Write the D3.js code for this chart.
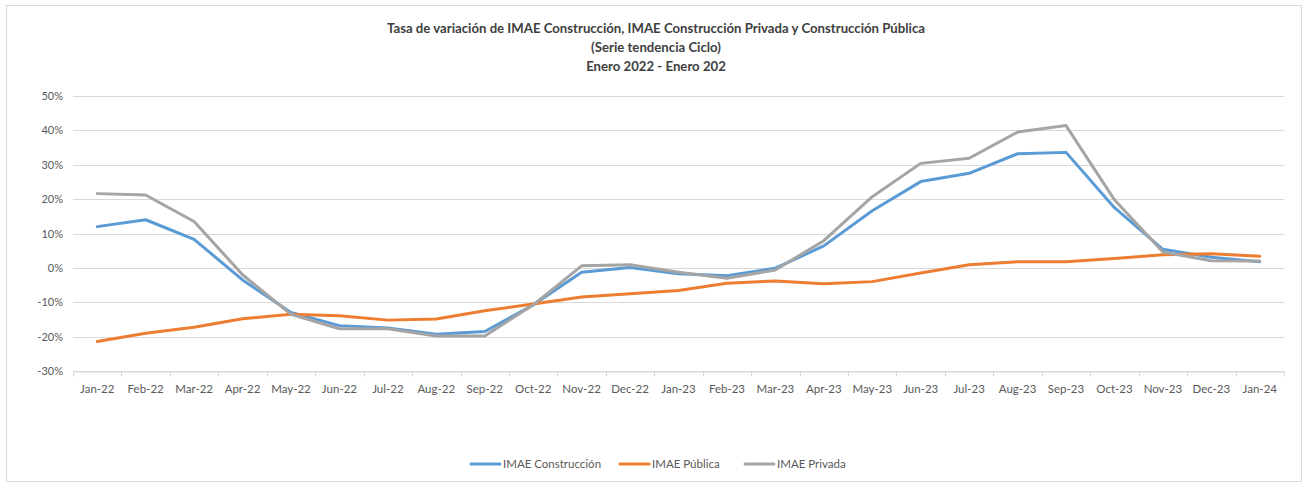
<!DOCTYPE html>
<html>
<head>
<meta charset="utf-8">
<script src="https://cdn.jsdelivr.net/npm/d3@7"></script>
<style>
  html, body { margin: 0; padding: 0; background: #fff; }
  svg { display: block; }
  text { font-family: Lato, "Open Sans", sans-serif; }
</style>
</head>
<body>
<svg id="chart" width="1307" height="485"></svg>
<script>
// Monthly categories
const months = ["Jan-22","Feb-22","Mar-22","Apr-22","May-22","Jun-22","Jul-22","Aug-22","Sep-22","Oct-22","Nov-22","Dec-22",
                "Jan-23","Feb-23","Mar-23","Apr-23","May-23","Jun-23","Jul-23","Aug-23","Sep-23","Oct-23","Nov-23","Dec-23","Jan-24"];

// Growth rates (%), trend-cycle series
const construccion = [12.0, 14.0, 8.3, -3.5, -13.0, -16.8, -17.5, -19.3, -18.5, -10.8, -1.3, 0.1,
                      -1.7, -2.3, -0.1, 6.4, 16.6, 25.1, 27.5, 33.2, 33.6, 17.5, 5.4, 3.1, 1.8];
const publica      = [-21.4, -19.0, -17.3, -14.8, -13.5, -13.9, -15.2, -14.9, -12.5, -10.5, -8.5, -7.5,
                      -6.6, -4.5, -3.8, -4.6, -4.0, -1.5, 0.9, 1.8, 1.8, 2.7, 3.8, 4.1, 3.4];
const privada      = [21.6, 21.2, 13.5, -2.0, -13.5, -17.7, -17.7, -19.8, -19.8, -10.8, 0.6, 0.9,
                      -1.3, -3.0, -0.6, 7.9, 20.7, 30.4, 31.9, 39.5, 41.4, 19.8, 4.6, 2.1, 2.0];

const yTicks = [-30, -20, -10, 0, 10, 20, 30, 40, 50];

const seriesNames = ["IMAE Construcción", "IMAE Pública", "IMAE Privada"];
const seriesColors = ["#5b9bd5", "#ed7d31", "#a5a5a5"];
const seriesData = [construccion, publica, privada];

const titleLines = [
  "Tasa de variación de IMAE Construcción, IMAE Construcción Privada y Construcción Pública",
  "(Serie tendencia Ciclo)",
  "Enero 2022 - Enero 202"
];

const svg = d3.select("#chart");

// Outer chart frame
svg.append("rect")
  .attr("x", 6.5).attr("y", 5.5)
  .attr("width", 1295).attr("height", 476)
  .attr("fill", "#fff").attr("stroke", "#d9d9d9");

const plotLeft = 73, plotRight = 1284, plotTop = 96, plotBottom = 371;

const x = d3.scaleBand().domain(months).range([plotLeft, plotRight]);
const y = d3.scaleLinear().domain([-30, 50]).range([plotBottom, plotTop]);

// Title
svg.append("g").selectAll("text")
  .data(titleLines).join("text")
  .attr("x", 656)
  .attr("y", (d, i) => 33 + i * 19)
  .attr("text-anchor", "middle")
  .attr("font-size", 13.2)
  .attr("font-weight", "bold")
  .attr("fill", "#404040")
  .text(d => d);

// Horizontal gridlines
svg.append("g").selectAll("line")
  .data(yTicks).join("line")
  .attr("x1", plotLeft).attr("x2", plotRight)
  .attr("y1", d => Math.round(y(d)) + 0.5)
  .attr("y2", d => Math.round(y(d)) + 0.5)
  .attr("stroke", "#d9d9d9").attr("stroke-width", 1);

// Y axis labels
const yAxis = d3.axisLeft(y).tickValues(yTicks).tickFormat(d => d + "%").tickSize(0).tickPadding(10);
const gy = svg.append("g").attr("transform", `translate(${plotLeft},0)`).call(yAxis);
gy.select(".domain").remove();
gy.selectAll("text").attr("font-size", 11).attr("fill", "#595959")
  .style("font-family", "Lato, 'Open Sans', sans-serif");

// X axis with tick marks between categories
const gx = svg.append("g").attr("transform", `translate(0,${Math.round(y(-30)) + 0.5})`)
  .call(d3.axisBottom(x).tickSize(0).tickPadding(13));
gx.select(".domain").attr("stroke", "#d9d9d9");
gx.selectAll("text").attr("font-size", 11.5).attr("fill", "#595959")
  .style("font-family", "Lato, 'Open Sans', sans-serif");
const boundaries = months.map(m => x(m)).concat([plotRight]);
gx.append("g").selectAll("line")
  .data(boundaries).join("line")
  .attr("x1", d => Math.round(d) + 0.5).attr("x2", d => Math.round(d) + 0.5)
  .attr("y1", 0).attr("y2", 5)
  .attr("stroke", "#d9d9d9");

// Series lines
const line = d3.line()
  .x((d, i) => x(months[i]) + x.bandwidth() / 2)
  .y(d => y(d));

svg.append("g").selectAll("path")
  .data(seriesData).join("path")
  .attr("d", d => line(d))
  .attr("fill", "none")
  .attr("stroke", (d, i) => seriesColors[i])
  .attr("stroke-width", 3)
  .attr("stroke-linejoin", "round")
  .attr("stroke-linecap", "round");

// Legend
const legendX = [471, 620, 745];
const lg = svg.append("g").selectAll("g")
  .data(seriesNames).join("g")
  .attr("transform", (d, i) => `translate(${legendX[i]},464)`);
lg.append("line")
  .attr("x1", 0).attr("x2", 29).attr("y1", 0).attr("y2", 0)
  .attr("stroke", (d, i) => seriesColors[i]).attr("stroke-width", 3)
  .attr("stroke-linecap", "round");
lg.append("text")
  .attr("x", 32).attr("y", 4)
  .attr("font-size", 11.5).attr("fill", "#595959")
  .text(d => d);
</script>
</body>
</html>
